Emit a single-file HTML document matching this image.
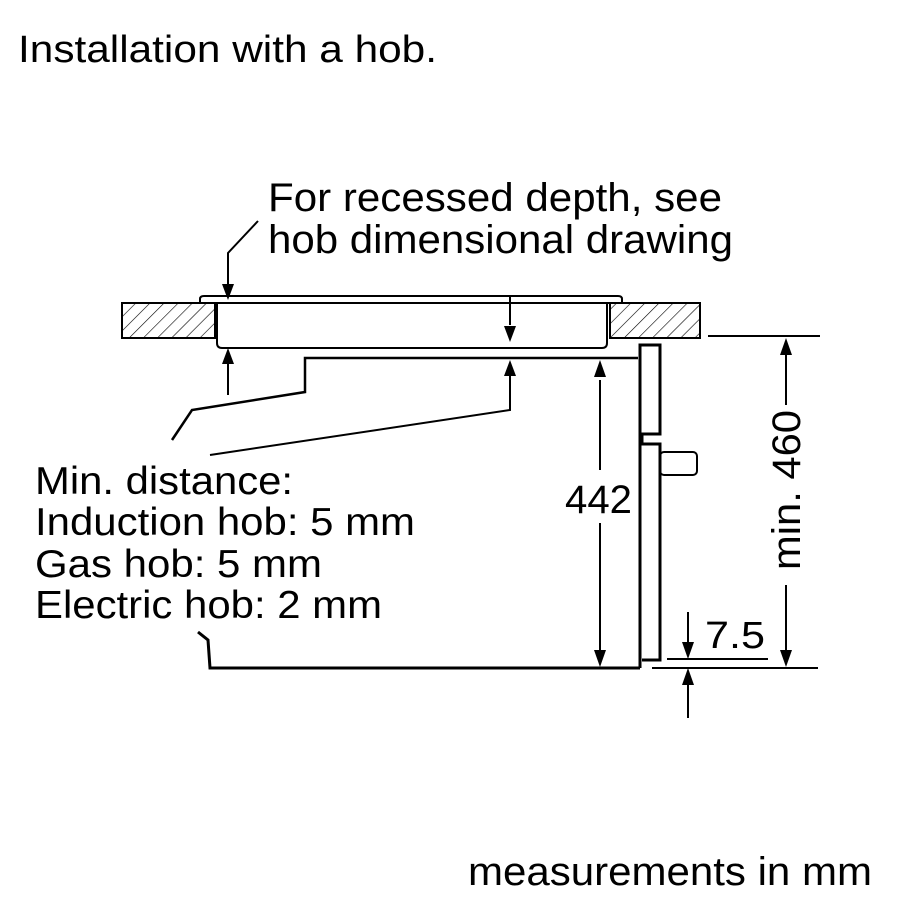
<!DOCTYPE html>
<html><head><style>
html,body{margin:0;padding:0;background:#fff;}
svg{display:block;}
text{font-family:"Liberation Sans",sans-serif;fill:#000;}
</style></head><body>
<svg width="900" height="900" viewBox="0 0 900 900" xmlns="http://www.w3.org/2000/svg">
<defs>
<pattern id="h" patternUnits="userSpaceOnUse" width="10" height="10" patternTransform="rotate(45)">
<line x1="0" y1="0" x2="0" y2="10" stroke="#000" stroke-width="1.2"/>
</pattern>
</defs>
<text x="18" y="62" font-size="38" textLength="419" lengthAdjust="spacingAndGlyphs">Installation with a hob.</text>
<text x="268" y="211" font-size="40" textLength="454" lengthAdjust="spacingAndGlyphs">For recessed depth, see</text>
<text x="268" y="253" font-size="40" textLength="465" lengthAdjust="spacingAndGlyphs">hob dimensional drawing</text>
<g font-size="39">
<text x="35" y="494" textLength="258" lengthAdjust="spacingAndGlyphs">Min. distance:</text>
<text x="35" y="535" textLength="380" lengthAdjust="spacingAndGlyphs">Induction hob: 5 mm</text>
<text x="35" y="577" textLength="287" lengthAdjust="spacingAndGlyphs">Gas hob: 5 mm</text>
<text x="35" y="618" textLength="347" lengthAdjust="spacingAndGlyphs">Electric hob: 2 mm</text>
</g>
<text x="468" y="885" font-size="40" textLength="404" lengthAdjust="spacingAndGlyphs">measurements in mm</text>
<text x="565" y="513" font-size="40" textLength="67" lengthAdjust="spacingAndGlyphs">442</text>
<text x="705" y="648" font-size="38" textLength="60" lengthAdjust="spacingAndGlyphs">7.5</text>
<text transform="translate(800,570) rotate(-90)" font-size="40" textLength="160" lengthAdjust="spacingAndGlyphs">min. 460</text>

<g fill="none" stroke="#000" stroke-width="2">
<rect x="122" y="303" width="93" height="35" fill="url(#h)"/>
<rect x="610" y="303" width="90" height="35" fill="url(#h)"/>
<path d="M200 303 L200 299 Q200 296 204 296 L618 296 Q622 296 622 299 L622 303 Z" fill="#fff"/>
<path d="M217 304 L217 343 Q217 348 222 348 L602 348 Q607 348 607 343 L607 304"/>
<path d="M638 358 L305 358 L305 392 L192 410 L172 440" stroke-width="2.5"/>
<path d="M510 375 L510 410 L210 455" stroke-width="2"/>
<path d="M258 221 L228 253 L228 285"/>
<line x1="228" y1="395" x2="228" y2="360"/>
<line x1="510" y1="296" x2="510" y2="325"/>
<line x1="600" y1="380" x2="600" y2="470"/>
<line x1="600" y1="523" x2="600" y2="650"/>
<line x1="786" y1="355" x2="786" y2="405"/>
<line x1="786" y1="585" x2="786" y2="650"/>
<line x1="688" y1="612" x2="688" y2="642"/>
<line x1="688" y1="685" x2="688" y2="718"/>
<line x1="708" y1="336" x2="820" y2="336"/>
<line x1="652" y1="668" x2="818" y2="668"/>
<line x1="667" y1="659" x2="768" y2="659"/>
<path d="M198 632 L208 640 L210 668 L640 668" stroke-width="3"/>
<path d="M640 668 L640 345 L660 345 L660 434 L642 434 L642 444 L660 444 L660 660 L642 660" stroke-width="3"/>
<rect x="660" y="452" width="37" height="23" rx="4"/>
</g>
<g fill="#000" stroke="none">
<polygon points="228,300 222,284 234,284"/>
<polygon points="228,348 222,364 234,364"/>
<polygon points="510,342 504,326 516,326"/>
<polygon points="510,360 504,376 516,376"/>
<polygon points="600,360 594,377 606,377"/>
<polygon points="600,667 594,650 606,650"/>
<polygon points="786,338 780,355 792,355"/>
<polygon points="786,667 780,650 792,650"/>
<polygon points="688,659 682,642 694,642"/>
<polygon points="688,668 682,685 694,685"/>
</g>
</svg>
</body></html>
